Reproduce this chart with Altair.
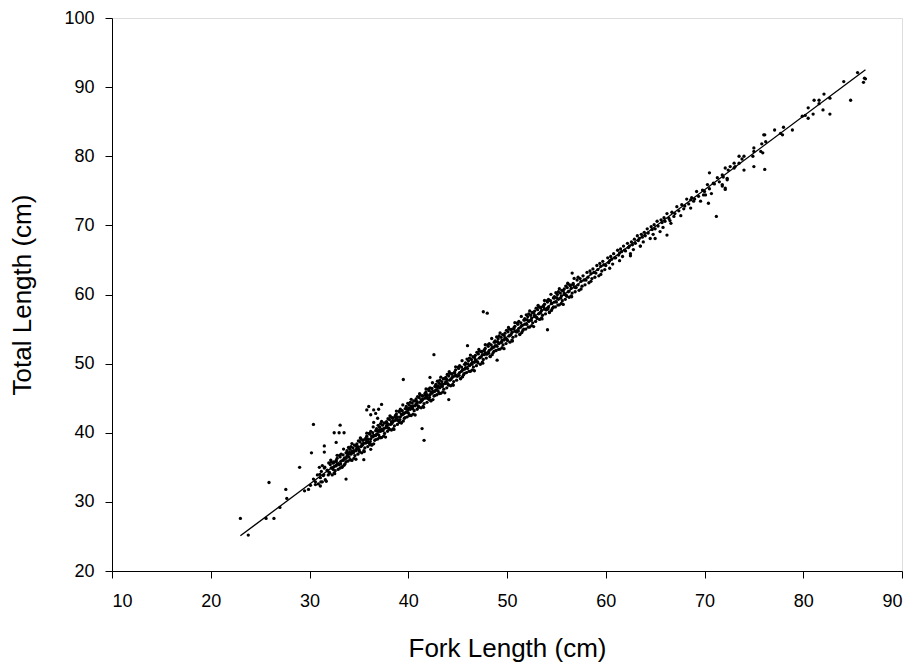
import altair as alt
import pandas as pd

# Fork length (cm), total length (cm) pairs
band_points = [
    (30.1, 32.4), (30.4, 33.3), (30.6, 32.9), (30.8, 33.9), (30.9, 32.6),
    (31.1, 33.5), (31.2, 34.4), (31.4, 33.8), (31.5, 34.9), (31.6, 33.2), (31.8, 34.5), (31.9, 33.9), (31.3, 32.9),
    (32.0, 34.3), (32.1, 35.4), (32.2, 34.9), (32.3, 33.9), (32.4, 35.6), (32.5, 35.1), (32.6, 34.5), (32.7, 36.0),
    (32.8, 35.5), (32.9, 34.7), (32.2, 35.8), (32.5, 34.2), (32.8, 36.3), (32.4, 34.7), (32.7, 35.2),
    (33.0, 35.4), (33.1, 36.5), (33.2, 35.9), (33.3, 35.0), (33.4, 36.8), (33.5, 36.2), (33.6, 35.5), (33.7, 37.1),
    (33.8, 36.6), (33.9, 35.9), (33.2, 36.9), (33.5, 35.3), (33.8, 37.4), (33.4, 36.0), (33.7, 36.3), (33.1, 34.9), (33.9, 36.9),
    (34.0, 36.5), (34.1, 37.6), (34.2, 36.9), (34.3, 36.0), (34.4, 37.8), (34.5, 37.4), (34.6, 36.7), (34.7, 38.1),
    (34.8, 37.6), (34.9, 36.9), (34.2, 38.0), (34.5, 36.3), (34.8, 38.4), (34.4, 37.2), (34.7, 37.4), (34.1, 36.1), (34.9, 38.0), (34.3, 37.3),
    (35.0, 37.6), (35.1, 38.7), (35.2, 38.0), (35.3, 37.1), (35.4, 38.9), (35.5, 38.5), (35.6, 37.8), (35.7, 39.2),
    (35.8, 38.7), (35.9, 38.0), (35.2, 39.1), (35.5, 37.4), (35.8, 39.5), (35.4, 38.3), (35.7, 38.5), (35.1, 37.2), (35.9, 39.1), (35.3, 38.4),
    (36.0, 38.6), (36.1, 39.8), (36.2, 39.1), (36.3, 38.2), (36.4, 40.0), (36.5, 39.6), (36.6, 38.9), (36.7, 40.3),
    (36.8, 39.8), (36.9, 39.1), (36.2, 40.2), (36.5, 38.4), (36.8, 40.6), (36.4, 39.4), (36.7, 39.6), (36.1, 38.3), (36.9, 40.2), (36.3, 39.5),
    (37.0, 39.7), (37.1, 40.8), (37.2, 40.2), (37.3, 39.3), (37.4, 41.1), (37.5, 40.6), (37.6, 39.9), (37.7, 41.4),
    (37.8, 40.9), (37.9, 40.2), (37.2, 41.3), (37.5, 39.5), (37.8, 41.6), (37.4, 40.4), (37.7, 40.7), (37.1, 39.4), (37.9, 41.3), (37.3, 40.5),
    (38.0, 40.7), (38.1, 41.9), (38.2, 41.2), (38.3, 40.4), (38.4, 42.1), (38.5, 41.7), (38.6, 41.0), (38.7, 42.5),
    (38.8, 41.9), (38.9, 41.2), (38.2, 42.3), (38.5, 40.6), (38.8, 42.7), (38.4, 41.5), (38.7, 41.8), (38.1, 40.5), (38.9, 42.3), (38.3, 41.6),
    (39.0, 41.8), (39.1, 43.0), (39.2, 42.3), (39.3, 41.4), (39.4, 43.2), (39.5, 42.8), (39.6, 42.1), (39.7, 43.5),
    (39.8, 43.0), (39.9, 42.3), (39.2, 43.4), (39.5, 41.7), (39.8, 43.8), (39.4, 42.6), (39.7, 42.9), (39.1, 41.5), (39.9, 43.4), (39.3, 42.7),
    (40.0, 42.9), (40.1, 44.0), (40.2, 43.4), (40.3, 42.5), (40.4, 44.3), (40.5, 43.9), (40.6, 43.2), (40.7, 44.6),
    (40.8, 44.1), (40.9, 43.4), (40.2, 44.4), (40.5, 42.7), (40.8, 44.9), (40.4, 43.6), (40.7, 43.9), (40.1, 42.6), (40.9, 44.5), (40.3, 43.8),
    (41.0, 43.9), (41.1, 45.1), (41.2, 44.4), (41.3, 43.6), (41.4, 45.3), (41.5, 44.9), (41.6, 44.2), (41.7, 45.7),
    (41.8, 45.1), (41.9, 44.4), (41.2, 45.5), (41.5, 43.8), (41.8, 45.9), (41.4, 44.7), (41.7, 45.0), (41.1, 43.7), (41.9, 45.5), (41.3, 44.8),
    (42.0, 45.0), (42.1, 46.1), (42.2, 45.5), (42.3, 44.6), (42.4, 46.4), (42.5, 46.0), (42.6, 45.3), (42.7, 46.7),
    (42.8, 46.2), (42.9, 45.5), (42.2, 46.5), (42.5, 44.8), (42.8, 47.0), (42.4, 45.7), (42.7, 46.0), (42.1, 44.8), (42.9, 46.6), (42.3, 45.9),
    (43.0, 46.1), (43.1, 47.2), (43.2, 46.5), (43.3, 45.7), (43.4, 47.4), (43.5, 47.0), (43.6, 46.3), (43.7, 47.8),
    (43.8, 47.2), (43.9, 46.5), (43.2, 47.6), (43.5, 45.9), (43.8, 48.0), (43.4, 46.8), (43.7, 47.1), (43.1, 45.8), (43.9, 47.7), (43.3, 47.0),
    (44.0, 47.1), (44.1, 48.2), (44.2, 47.6), (44.3, 46.8), (44.4, 48.5), (44.5, 48.1), (44.6, 47.4), (44.7, 48.8),
    (44.8, 48.3), (44.9, 47.6), (44.2, 48.6), (44.5, 47.0), (44.8, 49.1), (44.4, 47.9), (44.7, 48.2), (44.1, 46.9),
    (45.0, 48.2), (45.1, 49.3), (45.2, 48.7), (45.3, 47.8), (45.4, 49.5), (45.5, 49.1), (45.6, 48.4), (45.7, 49.9),
    (45.8, 49.4), (45.9, 48.7), (45.2, 49.7), (45.5, 48.1), (45.8, 50.1), (45.4, 48.9), (45.7, 49.2),
    (46.0, 49.3), (46.1, 50.4), (46.2, 49.7), (46.3, 48.9), (46.4, 50.6), (46.5, 50.2), (46.6, 49.5), (46.7, 50.9),
    (46.8, 50.4), (46.9, 49.7), (46.2, 50.8), (46.5, 49.1), (46.8, 51.2), (46.4, 50.0), (46.7, 50.2),
    (47.0, 50.3), (47.1, 51.4), (47.2, 50.8), (47.3, 49.9), (47.4, 51.7), (47.5, 51.3), (47.6, 50.6), (47.7, 52.0),
    (47.8, 51.5), (47.9, 50.8), (47.2, 51.8), (47.5, 50.2), (47.8, 52.2), (47.4, 51.0), (47.7, 51.3),
    (48.0, 51.4), (48.1, 52.5), (48.2, 51.9), (48.3, 51.0), (48.4, 52.7), (48.5, 52.3), (48.6, 51.6), (48.7, 53.1),
    (48.8, 52.6), (48.9, 51.9), (48.2, 52.9), (48.5, 51.3), (48.8, 53.3), (48.4, 52.1), (48.7, 52.4),
    (49.0, 52.5), (49.1, 53.6), (49.2, 52.9), (49.3, 52.1), (49.4, 53.8), (49.5, 53.4), (49.6, 52.7), (49.7, 54.1),
    (49.8, 53.6), (49.9, 52.9), (49.2, 54.0), (49.5, 52.3), (49.8, 54.4), (49.4, 53.1), (49.7, 53.4),
    (50.0, 53.5), (50.1, 54.6), (50.2, 54.0), (50.3, 53.1), (50.4, 54.9), (50.5, 54.5), (50.6, 53.8), (50.7, 55.2),
    (50.8, 54.7), (50.9, 54.0), (50.2, 55.0), (50.5, 53.4), (50.8, 55.4), (50.4, 54.2),
    (51.0, 54.6), (51.1, 55.7), (51.2, 55.1), (51.3, 54.2), (51.4, 55.9), (51.5, 55.5), (51.6, 54.8), (51.7, 56.3),
    (51.8, 55.7), (51.9, 55.0), (51.2, 56.1), (51.5, 54.5), (51.8, 56.5), (51.4, 55.3),
    (52.0, 55.7), (52.1, 56.8), (52.2, 56.1), (52.3, 55.3), (52.4, 57.0), (52.5, 56.6), (52.6, 55.9), (52.7, 57.3),
    (52.8, 56.8), (52.9, 56.1), (52.2, 57.2), (52.5, 55.5), (52.8, 57.6), (52.4, 56.3),
    (53.0, 56.7), (53.1, 57.8), (53.2, 57.2), (53.3, 56.4), (53.4, 58.1), (53.5, 57.7), (53.6, 57.0), (53.7, 58.4),
    (53.8, 57.9), (53.9, 57.2), (53.2, 58.2), (53.5, 56.6), (53.8, 58.6), (53.4, 57.4),
    (54.0, 57.8), (54.1, 58.9), (54.2, 58.2), (54.3, 57.4), (54.4, 59.1), (54.5, 58.7), (54.6, 58.0), (54.7, 59.5),
    (54.8, 58.9), (54.9, 58.2), (54.2, 59.3), (54.5, 57.7), (54.8, 59.7),
    (55.0, 58.9), (55.1, 60.0), (55.2, 59.3), (55.3, 58.5), (55.4, 60.2), (55.5, 59.8), (55.6, 59.1), (55.7, 60.5),
    (55.8, 60.0), (55.9, 59.3), (55.2, 60.4), (55.5, 58.7), (55.8, 60.8),
    (56.0, 59.9), (56.1, 61.0), (56.2, 60.4), (56.3, 59.6), (56.4, 61.3), (56.5, 60.9), (56.6, 60.2), (56.7, 61.6),
    (56.8, 61.1), (56.9, 60.4), (56.2, 61.5), (56.5, 59.8),
    (57.0, 61.0), (57.1, 62.1), (57.2, 61.4), (57.3, 60.6), (57.4, 62.3), (57.5, 61.9), (57.6, 61.2), (57.7, 62.7),
    (57.8, 62.1), (57.9, 61.4), (57.2, 62.5), (57.5, 60.8),
    (58.0, 62.1), (58.1, 63.2), (58.2, 62.5), (58.3, 61.7), (58.4, 63.4), (58.5, 63.0), (58.6, 62.3), (58.7, 63.7),
    (58.8, 63.2), (58.9, 62.5), (58.5, 61.9),
    (59.0, 63.1), (59.1, 64.2), (59.2, 63.6), (59.3, 62.7), (59.4, 64.5), (59.5, 64.1), (59.6, 63.4), (59.7, 64.8),
    (59.8, 64.3), (59.9, 63.6), (59.5, 62.9),
    (60.0, 64.2), (60.2, 65.3), (60.3, 64.6), (60.4, 63.8), (60.5, 65.5), (60.6, 65.1), (60.7, 64.4), (60.8, 65.9), (60.9, 65.3), (60.4, 64.9),
    (61.0, 65.3), (61.2, 66.4), (61.3, 65.7), (61.4, 64.9), (61.5, 66.6), (61.6, 66.2), (61.7, 65.5), (61.8, 67.0), (61.9, 66.4), (61.4, 66.0),
    (62.0, 66.3), (62.2, 67.4), (62.3, 66.8), (62.5, 65.9), (62.6, 67.6), (62.7, 67.2), (62.8, 66.5), (62.9, 68.0), (62.4, 67.0),
    (63.0, 67.4), (63.2, 68.5), (63.3, 67.8), (63.5, 67.0), (63.6, 68.7), (63.7, 68.3), (63.8, 67.6), (63.9, 69.0), (63.4, 68.1),
    (64.0, 68.5), (64.2, 69.5), (64.3, 68.9), (64.5, 68.1), (64.6, 69.8), (64.7, 69.4), (64.8, 68.7), (64.9, 70.1),
    (65.0, 69.5), (65.2, 70.6), (65.3, 69.9), (65.5, 69.1), (65.6, 70.8), (65.7, 70.4), (65.8, 69.7), (65.9, 71.1),
    (66.0, 70.6), (66.2, 71.7), (66.4, 71.0), (66.6, 70.3), (66.7, 71.9), (66.9, 71.3), (66.5, 70.7),
    (67.0, 71.7), (67.2, 72.7), (67.4, 72.1), (67.6, 71.4), (67.7, 73.0), (67.9, 72.4),
    (68.0, 72.8), (68.2, 73.8), (68.4, 73.1), (68.6, 72.5), (68.7, 74.0), (68.9, 73.5),
    (69.0, 73.8), (69.2, 74.9), (69.4, 74.2), (69.6, 73.5), (69.8, 75.1), (69.9, 74.4),
    (70.0, 74.9), (70.3, 75.9), (70.5, 75.3), (70.7, 74.6), (70.9, 76.1),
    (71.0, 76.0), (71.3, 76.9), (71.5, 76.3), (71.8, 75.7), (71.9, 77.0),
]

# Further fish filling the dense part of the band (31-57 cm fork length)
band_fill = [
    (31.05, 33.98), (31.15, 32.89), (31.3, 35.25), (31.45, 33.91), (31.55, 35.02), (31.7, 32.98), (31.8, 34.58), (31.95, 35.64),
    (32.05, 34.14), (32.15, 36.05), (32.3, 34.91), (32.45, 35.77), (32.55, 34.08), (32.7, 35.84), (32.8, 36.74), (32.95, 35.40),
    (33.05, 36.71), (33.15, 35.52), (33.3, 35.08), (33.45, 37.64), (33.55, 36.35), (33.7, 35.81), (33.8, 37.11), (33.95, 37.87),
    (34.05, 37.17), (34.15, 36.08), (34.3, 38.44), (34.45, 37.10), (34.55, 38.21), (34.7, 36.17), (34.8, 37.77), (34.95, 38.83),
    (35.05, 37.34), (35.15, 39.25), (35.3, 38.11), (35.45, 38.97), (35.55, 37.28), (35.7, 39.04), (35.8, 39.94), (35.95, 38.60),
    (36.05, 39.91), (36.15, 38.72), (36.3, 38.28), (36.45, 40.84), (36.55, 39.55), (36.7, 39.01), (36.8, 40.31), (36.95, 41.07),
    (37.05, 40.37), (37.15, 39.28), (37.3, 41.64), (37.45, 40.30), (37.55, 41.41), (37.7, 39.37), (37.8, 40.97), (37.95, 42.03),
    (38.05, 40.54), (38.15, 42.45), (38.3, 41.31), (38.45, 42.17), (38.55, 40.48), (38.7, 42.24), (38.8, 43.14), (38.95, 41.80),
    (39.05, 43.10), (39.15, 41.91), (39.3, 41.47), (39.45, 44.03), (39.55, 42.74), (39.7, 42.20), (39.8, 43.50), (39.95, 44.26),
    (40.05, 43.57), (40.15, 42.48), (40.3, 44.84), (40.45, 43.50), (40.55, 44.61), (40.7, 42.57), (40.8, 44.17), (40.95, 45.23),
    (41.05, 43.74), (41.15, 45.65), (41.3, 44.51), (41.45, 45.37), (41.55, 43.68), (41.7, 45.44), (41.8, 46.34), (41.95, 45.00),
    (42.05, 46.30), (42.15, 45.11), (42.3, 44.67), (42.45, 47.23), (42.55, 45.94), (42.7, 45.40), (42.8, 46.70), (42.95, 47.46),
    (43.05, 46.77), (43.15, 45.68), (43.3, 48.04), (43.45, 46.70), (43.55, 47.81), (43.7, 45.77), (43.8, 47.37), (43.95, 48.43),
    (44.05, 46.93), (44.15, 48.84), (44.3, 47.70), (44.45, 48.56), (44.55, 46.87), (44.7, 48.63), (44.8, 49.53), (44.95, 48.19),
    (45.05, 49.50), (45.15, 48.31), (45.3, 47.87), (45.45, 50.43), (45.55, 49.14), (45.7, 48.60), (45.8, 49.90), (45.95, 50.66),
    (46.05, 49.97), (46.15, 48.88), (46.3, 51.24), (46.45, 49.90), (46.55, 51.01), (46.7, 48.97), (46.8, 50.57), (46.95, 51.63),
    (47.05, 50.13), (47.15, 52.04), (47.3, 50.90), (47.45, 51.76), (47.55, 50.07), (47.7, 51.83), (47.8, 52.73), (47.95, 51.39),
    (48.05, 52.70), (48.15, 51.51), (48.3, 51.07), (48.45, 53.63), (48.55, 52.34), (48.7, 51.80), (48.8, 53.10), (48.95, 53.86),
    (49.05, 53.16), (49.15, 52.07), (49.3, 54.43), (49.45, 53.09), (49.55, 54.20), (49.7, 52.16), (49.8, 53.76), (49.95, 54.82),
    (50.05, 53.33), (50.15, 55.24), (50.3, 54.10), (50.45, 54.96), (50.55, 53.27), (50.7, 55.03), (50.8, 55.93), (50.95, 54.59),
    (51.05, 55.90), (51.15, 54.71), (51.3, 54.27), (51.45, 56.83), (51.55, 55.54), (51.7, 55.00), (51.8, 56.30), (51.95, 57.06),
    (52.05, 56.36), (52.15, 55.27), (52.3, 57.63), (52.45, 56.29), (52.55, 57.40), (52.7, 55.36), (52.8, 56.96), (52.95, 58.02),
    (53.05, 56.53), (53.15, 58.44), (53.3, 57.30), (53.45, 58.16), (53.55, 56.47), (53.7, 58.23), (53.8, 59.13), (53.95, 57.79),
    (54.05, 59.09), (54.15, 57.90), (54.3, 57.46), (54.45, 60.02), (54.55, 58.73), (54.7, 58.19), (54.8, 59.49), (54.95, 60.25),
    (55.05, 59.56), (55.15, 58.47), (55.3, 60.83), (55.45, 59.49), (55.55, 60.60), (55.7, 58.56), (55.8, 60.16), (55.95, 61.22),
    (56.05, 59.73), (56.15, 61.64), (56.3, 60.50), (56.45, 61.36), (56.55, 59.67), (56.7, 61.43), (56.8, 62.33), (56.95, 60.99),
]

# Scattered fish away from the dense band and at the large end
sparse_points = [
    (23.0, 27.6), (23.8, 25.2), (25.9, 32.8), (25.6, 27.6), (26.4, 27.6), (27.0, 29.2), (27.6, 31.8),
    (27.7, 30.5), (29.0, 35.0), (29.5, 31.6), (29.9, 31.8), (30.4, 41.2), (30.2, 37.1), (30.6, 32.5),
    (31.1, 32.3), (31.0, 35.0), (31.5, 38.1), (31.5, 37.2), (32.7, 38.6), (32.5, 40.0), (33.0, 40.0),
    (33.5, 40.0), (33.1, 41.1), (33.7, 33.3), (35.5, 36.1), (35.8, 43.3), (36.0, 43.8), (36.5, 43.3),
    (36.2, 42.6), (36.7, 42.8), (37.0, 43.4), (37.3, 44.1), (36.5, 41.5), (36.9, 42.1), (36.2, 37.6),
    (39.5, 47.7), (42.6, 51.3), (41.6, 38.9), (41.4, 40.6), (42.2, 48.0), (44.1, 44.8), (46.0, 52.6),
    (47.6, 57.5), (48.0, 57.3), (49.0, 50.5), (54.1, 54.9), (56.6, 63.1), (70.4, 73.2), (71.2, 71.3),
    (66.2, 68.6), (65.0, 68.1), (75.0, 78.5), (70.5, 77.6), (62.5, 65.6), (63.5, 67.0), (72.1, 75.2),
    (72.3, 76.6), (76.1, 78.1), (76.1, 83.1), (75.7, 80.7), (70.1, 74.4), (68.6, 73.7),
    (86.2, 91.3), (86.1, 90.7), (85.5, 92.1), (86.3, 91.2), (84.8, 88.1), (84.1, 90.8), (82.7, 86.1),
    (82.0, 86.7), (82.1, 89.0), (81.1, 88.1), (81.6, 88.1), (81.6, 87.6), (80.5, 87.0), (80.5, 85.5),
    (81.0, 86.1), (79.9, 85.8), (80.2, 85.9), (82.7, 88.4), (78.9, 83.8), (78.0, 84.2), (77.9, 83.1),
    (77.7, 83.3), (77.1, 83.8), (76.0, 83.1), (76.2, 82.1), (75.8, 81.8), (75.0, 81.2), (75.0, 80.7),
    (75.9, 80.5), (74.9, 80.0), (73.5, 80.0), (74.0, 80.0), (73.8, 79.6), (73.5, 79.0), (73.0, 79.0),
    (73.1, 78.5), (72.6, 78.5), (72.4, 78.0), (72.1, 78.3), (73.0, 78.3), (74.0, 78.0), (71.8, 77.3),
    (72.3, 76.8), (71.8, 75.9), (72.1, 75.4),
]

# Fitted regression line end points
fit_fork = [23.0, 86.3]
fit_total = [25.1, 92.5]

x_ticks = [10, 20, 30, 40, 50, 60, 70, 80, 90]
y_ticks = [20, 30, 40, 50, 60, 70, 80, 90, 100]

pts = pd.DataFrame(band_points + band_fill + sparse_points, columns=["fork", "total"])
fit = pd.DataFrame({"fork": fit_fork, "total": fit_total})

FONT = "Liberation Sans"

x_enc = alt.X(
    "fork:Q",
    scale=alt.Scale(domain=[10, 90], nice=False, zero=False),
    axis=alt.Axis(
        values=x_ticks, title="Fork Length (cm)", grid=False,
        tickSize=7, tickColor="black", domainColor="black",
        labelFontSize=18, labelPadding=14, labelColor="black",
        titleFontSize=26, titleFontWeight="normal", titleColor="black", titlePadding=25,
        labelFont=FONT, titleFont=FONT,
    ),
)
y_enc = alt.Y(
    "total:Q",
    scale=alt.Scale(domain=[20, 100], nice=False, zero=False),
    axis=alt.Axis(
        values=y_ticks, title="Total Length (cm)", grid=False,
        tickSize=7, tickColor="black", domainColor="black",
        labelFontSize=18, labelPadding=11, labelColor="black",
        titleFontSize=26, titleFontWeight="normal", titleColor="black", titlePadding=28,
        labelFont=FONT, titleFont=FONT,
    ),
)

points = alt.Chart(pts).mark_circle(size=11, color="black", opacity=1).encode(x=x_enc, y=y_enc)
line = alt.Chart(fit).mark_line(color="black", strokeWidth=1.3).encode(x="fork:Q", y="total:Q")

chart = (
    alt.layer(points, line)
    .properties(
        width=790, height=553,
        autosize=alt.AutoSizeParams(type="none"),
        padding={"left": 112, "top": 18, "right": 17, "bottom": 98},
    )
    .configure_view(stroke="black", strokeWidth=1)
    .configure(background="white")
)

chart.save("out.html", embed_options={"renderer": "svg", "actions": False})
